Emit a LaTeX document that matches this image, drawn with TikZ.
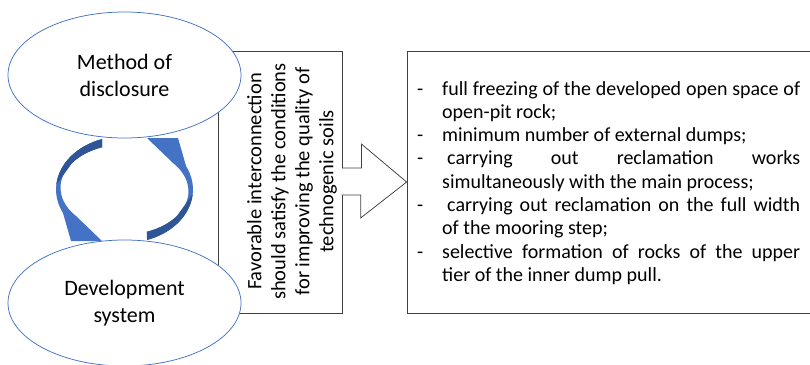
\documentclass[tikz,border=0pt]{standalone}
\usepackage{fontspec}
\setmainfont{Carlito}
\usetikzlibrary{shapes.geometric}
\definecolor{ovalblue}{RGB}{68,114,196}
\definecolor{arrowlight}{RGB}{68,114,196}
\definecolor{arrowdark}{RGB}{47,85,151}
\definecolor{framegray}{RGB}{64,64,64}
\tikzstyle{oval}=[ellipse, draw=ovalblue, fill=white, line width=.75pt, minimum width=233pt, minimum height=126pt, inner sep=0pt, align=center, font=\fontsize{22}{27}\selectfont]
\tikzstyle{frame}=[draw=framegray, line width=.75pt]
\newcommand{\halfloop}{%
  \fill[arrowlight] (102,139) arc[start angle=250.8, end angle=154, x radius=68.5, y radius=53.5]
    -- (71,241) -- (102,241) -- (76,216)
    arc[start angle=139.3, end angle=249.4, x radius=64, y radius=43.3] -- cycle;
  \fill[arrowdark] (102,139) arc[start angle=250.8, end angle=185, x radius=68.5, y radius=53.5]
    -- (72.1,163) arc[start angle=215, end angle=249.4, x radius=64, y radius=43.3] -- cycle;
}
\newcommand{\dashitem}{\hangindent=25pt\hangafter=1\noindent\makebox[25pt][l]{-}}

\begin{document}
\begin{tikzpicture}[x=1pt,y=-1pt]
  \useasboundingbox (0,0) rectangle (810,364);
  %% middle box
  \draw (280,182) node[frame, minimum width=124pt, minimum height=262pt] (favor) {};
  \draw (292,181.5) node[rotate=90, align=center, font=\fontsize{20.5}{24}\selectfont] (favortext)
    {Favorable interconnection\\should satisfy the conditions\\for improving the quality of\\technogenic soils};

  %% the two ovals
  \draw (124.5,75) node[oval] (method) {Method of\\disclosure};
  \draw (124.5,303) node[oval] (devel) {Development\\system};

  %% loop arrows
  \halfloop
  \begin{scope}[rotate around={180:(124.5,189.5)}]
    \halfloop
  \end{scope}

  %% list box
  \draw (612,182) node[frame, minimum width=410pt, minimum height=262pt] (list) {};
  \draw (417,95) node[anchor=base west, text width=383pt, align=justify, inner sep=0pt,
    font=\fontsize{20}{23.3}\selectfont] (listtext) {\tolerance=10000
    \dashitem full freezing of the developed open space of\linebreak open-pit rock;\par
    \dashitem minimum number of external dumps;\par
    \dashitem\kern5pt carrying out reclamation works\linebreak simultaneously with the main process;\par
    \dashitem\kern5pt carrying out reclamation on the full width\linebreak of the mooring step;\par
    \dashitem selective formation of rocks of the upper\linebreak tier of the inner dump pull.\par};

  %% block arrow
  \fill[white] ([xshift=-1pt,yshift=13.5pt]favor.east) rectangle ([xshift=1pt,yshift=-12.5pt]favor.east);
  \draw[frame, fill=white] ([yshift=14pt]favor.east) -- ++(19,0) -- ++(0,-24) -- (list.west)
    -- ++(-46,36) -- ++(0,-23) -- ++(-19,0);
\end{tikzpicture}
\end{document}
